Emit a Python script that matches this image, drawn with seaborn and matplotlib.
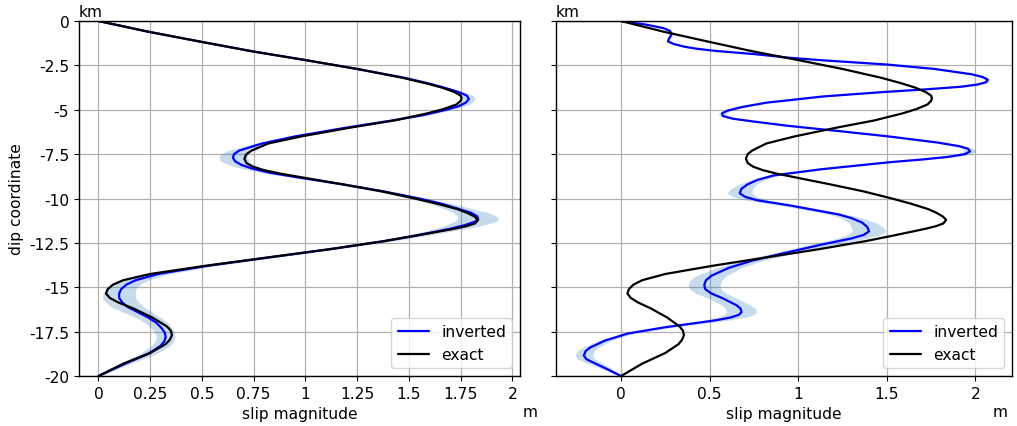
import numpy as np
import matplotlib
matplotlib.use("Agg")
import matplotlib.pyplot as plt
import seaborn as sns

# exact slip (same in both panels)
depth_exact = [0.0, -0.6, -1.2, -1.7, -2.2, -2.7, -3.2, -3.5, -3.75, -4.0,
               -4.2, -4.35, -4.5, -4.7, -4.95, -5.2, -5.6, -6.0, -6.5, -6.9,
               -7.3, -7.5, -7.75, -8.0, -8.2, -8.4, -8.6, -8.8, -9.2, -9.6,
               -10.0, -10.3, -10.6, -10.8, -11.0, -11.2, -11.4, -11.55, -11.7, -11.87,
               -12.1, -12.4, -12.85, -13.3, -13.8, -14.25, -14.6, -14.85, -15.1, -15.35,
               -15.6, -15.85, -16.2, -16.7, -17.2, -17.45, -17.7, -17.95, -18.2, -18.7,
               -19.3, -19.65, -20.0]
slip_exact = [0.0, 0.24, 0.51, 0.74, 1.00, 1.25, 1.47, 1.58, 1.66, 1.72,
              1.75, 1.755, 1.75, 1.73, 1.67, 1.59, 1.43, 1.22, 0.98, 0.82,
              0.74, 0.715, 0.705, 0.715, 0.745, 0.80, 0.88, 0.98, 1.18, 1.37,
              1.53, 1.64, 1.735, 1.78, 1.815, 1.835, 1.82, 1.78, 1.72, 1.64,
              1.53, 1.38, 1.12, 0.83, 0.51, 0.25, 0.12, 0.07, 0.045, 0.036,
              0.055, 0.095, 0.17, 0.26, 0.33, 0.35, 0.355, 0.345, 0.325, 0.25,
              0.12, 0.06, 0.0]

# left panel: inverted slip and its spread
depth_left = [0.0, -0.6, -1.2, -1.7, -2.2, -2.7, -3.2, -3.5, -3.75, -4.0,
              -4.2, -4.4, -4.6, -4.8, -5.0, -5.3, -5.6, -6.0, -6.5, -6.9,
              -7.3, -7.5, -7.7, -7.9, -8.1, -8.3, -8.55, -8.8, -9.2, -9.6,
              -10.0, -10.3, -10.6, -10.8, -11.0, -11.15, -11.3, -11.5, -11.7, -11.9,
              -12.1, -12.4, -12.85, -13.3, -13.8, -14.25, -14.6, -14.85, -15.1, -15.35,
              -15.6, -15.85, -16.1, -16.4, -16.7, -17.0, -17.3, -17.55, -17.8, -18.05,
              -18.3, -18.75, -19.3, -19.65, -20.0]
slip_left = [0.0, 0.24, 0.51, 0.74, 1.00, 1.25, 1.48, 1.59, 1.67, 1.74,
             1.78, 1.79, 1.775, 1.74, 1.68, 1.57, 1.42, 1.20, 0.95, 0.79,
             0.68, 0.655, 0.65, 0.66, 0.69, 0.74, 0.83, 0.96, 1.18, 1.38,
             1.55, 1.66, 1.745, 1.80, 1.83, 1.835, 1.82, 1.77, 1.70, 1.615,
             1.525, 1.38, 1.12, 0.835, 0.52, 0.29, 0.18, 0.135, 0.11, 0.10,
             0.10, 0.115, 0.14, 0.19, 0.24, 0.28, 0.305, 0.32, 0.325, 0.318,
             0.30, 0.24, 0.13, 0.065, 0.0]
std_left = [0.005, 0.008, 0.01, 0.01, 0.01, 0.012, 0.015, 0.018, 0.022, 0.026,
            0.03, 0.03, 0.03, 0.028, 0.025, 0.02, 0.02, 0.02, 0.025, 0.035,
            0.055, 0.065, 0.07, 0.068, 0.06, 0.05, 0.04, 0.03, 0.03, 0.035,
            0.045, 0.055, 0.07, 0.085, 0.095, 0.1, 0.1, 0.09, 0.075, 0.06,
            0.05, 0.04, 0.035, 0.035, 0.04, 0.05, 0.06, 0.065, 0.07, 0.078,
            0.08, 0.08, 0.078, 0.07, 0.06, 0.055, 0.05, 0.047, 0.045, 0.045,
            0.045, 0.04, 0.025, 0.015, 0.005]

# right panel: inverted slip and its spread
depth_right = [0.0, -0.2, -0.4, -0.55, -0.7, -0.85, -1.0, -1.15, -1.3, -1.45,
               -1.55, -1.68, -1.87, -2.06, -2.2, -2.45, -2.7, -3.0, -3.15, -3.3,
               -3.45, -3.58, -3.7, -3.85, -4.0, -4.25, -4.6, -4.85, -5.05, -5.2,
               -5.35, -5.5, -5.65, -5.9, -6.2, -6.5, -6.85, -7.05, -7.2, -7.35,
               -7.5, -7.65, -7.8, -7.95, -8.35, -8.7, -8.95, -9.2, -9.45, -9.7,
               -9.9, -10.1, -10.4, -10.9, -11.1, -11.35, -11.6, -11.85, -12.05, -12.25,
               -12.6, -13.1, -13.5, -13.9, -14.35, -14.6, -14.85, -15.1, -15.35, -15.6,
               -16.0, -16.2, -16.4, -16.55, -16.7, -16.85, -16.95, -17.25, -17.6, -18.0,
               -18.4, -18.6, -18.85, -19.05, -19.2, -19.6, -20.0]
slip_right = [0.0, 0.14, 0.24, 0.275, 0.285, 0.28, 0.27, 0.265, 0.30, 0.36,
              0.42, 0.53, 0.76, 0.94, 1.12, 1.50, 1.77, 1.98, 2.04, 2.07,
              2.06, 2.01, 1.92, 1.72, 1.48, 1.14, 0.82, 0.68, 0.60, 0.57,
              0.575, 0.63, 0.74, 0.94, 1.23, 1.51, 1.79, 1.91, 1.96, 1.97,
              1.94, 1.85, 1.70, 1.52, 1.13, 0.86, 0.77, 0.715, 0.68, 0.67,
              0.70, 0.77, 0.96, 1.23, 1.30, 1.36, 1.39, 1.40, 1.37, 1.30,
              1.13, 0.91, 0.74, 0.61, 0.51, 0.48, 0.47, 0.475, 0.51, 0.57,
              0.65, 0.675, 0.68, 0.665, 0.62, 0.54, 0.47, 0.25, 0.04, -0.09,
              -0.175, -0.20, -0.21, -0.195, -0.165, -0.08, 0.0]
std_right = [0.002, 0.005, 0.008, 0.01, 0.01, 0.01, 0.01, 0.01, 0.01, 0.01,
             0.01, 0.012, 0.012, 0.012, 0.012, 0.012, 0.015, 0.015, 0.015, 0.015,
             0.015, 0.015, 0.015, 0.015, 0.015, 0.015, 0.015, 0.018, 0.02, 0.02,
             0.02, 0.02, 0.02, 0.02, 0.02, 0.02, 0.025, 0.028, 0.03, 0.035,
             0.033, 0.03, 0.028, 0.025, 0.025, 0.03, 0.04, 0.05, 0.062, 0.07,
             0.068, 0.062, 0.05, 0.05, 0.06, 0.075, 0.09, 0.095, 0.093, 0.085,
             0.07, 0.06, 0.06, 0.07, 0.085, 0.09, 0.09, 0.088, 0.085, 0.08,
             0.08, 0.085, 0.085, 0.083, 0.08, 0.07, 0.06, 0.04, 0.03, 0.035,
             0.045, 0.048, 0.05, 0.048, 0.045, 0.03, 0.005]

yticks = [0, -2.5, -5, -7.5, -10, -12.5, -15, -17.5, -20]
xticks_left = [0, 0.25, 0.5, 0.75, 1, 1.25, 1.5, 1.75, 2]
xticks_right = [0, 0.5, 1, 1.5, 2]

sns.set_style("ticks")
plt.rcParams["font.family"] = ["DejaVu Sans"]
plt.rcParams["axes.unicode_minus"] = False
for key in ["text.color", "axes.labelcolor", "xtick.color", "ytick.color"]:
    plt.rcParams[key] = "black"

fig = plt.figure(figsize=(10.17, 4.27), dpi=100)
ax1 = fig.add_axes([0.0777, 0.117, 0.4336, 0.8314])
ax2 = fig.add_axes([0.5467, 0.117, 0.4484, 0.8314], sharey=ax1)

panels = [
    (ax1, depth_left, slip_left, std_left, xticks_left, (-0.094, 2.037), 1.023),
    (ax2, depth_right, slip_right, std_right, xticks_right, (-0.367, 2.207), 0.975),
]

fs = 11.2
for ax, dep, slip, std, xt, xl, mx in panels:
    s = np.array(slip)
    sd = np.array(std)
    ax.fill_betweenx(dep, s - sd, s + sd, color="C0", alpha=0.25, lw=0)
    sns.lineplot(x=slip, y=dep, orient="y", sort=False, estimator=None,
                 color="b", lw=1.6, label="inverted", ax=ax)
    sns.lineplot(x=slip_exact, y=depth_exact, orient="y", sort=False, estimator=None,
                 color="k", lw=1.6, label="exact", ax=ax)
    ax.set_xlim(*xl)
    ax.set_ylim(-20, 0)
    ax.set_xticks(xt)
    ax.set_xticklabels([f"{v:g}" for v in xt], fontsize=fs)
    ax.set_yticks(yticks)
    ax.grid(True, color="#b0b0b0", lw=0.9)
    ax.set_axisbelow(True)
    for sp in ax.spines.values():
        sp.set_color("k")
        sp.set_linewidth(1.0)
    ax.tick_params(direction="out", length=3.5, color="k", labelsize=fs)
    ax.set_xlabel("slip magnitude", fontsize=fs)
    ax.set_ylabel("")
    ax.text(0.0, 1.005, "km", transform=ax.transAxes, ha="left", va="bottom", fontsize=fs)
    ax.text(mx, -0.078, "m", transform=ax.transAxes, ha="center", va="top", fontsize=fs)
    ax.legend(loc="lower right", fontsize=fs, frameon=True)

ax1.set_yticklabels([f"{v:g}" for v in yticks], fontsize=fs)
ax1.set_ylabel("dip coordinate", fontsize=fs)
plt.setp(ax2.get_yticklabels(), visible=False)

fig.savefig("out.png", dpi=100)
